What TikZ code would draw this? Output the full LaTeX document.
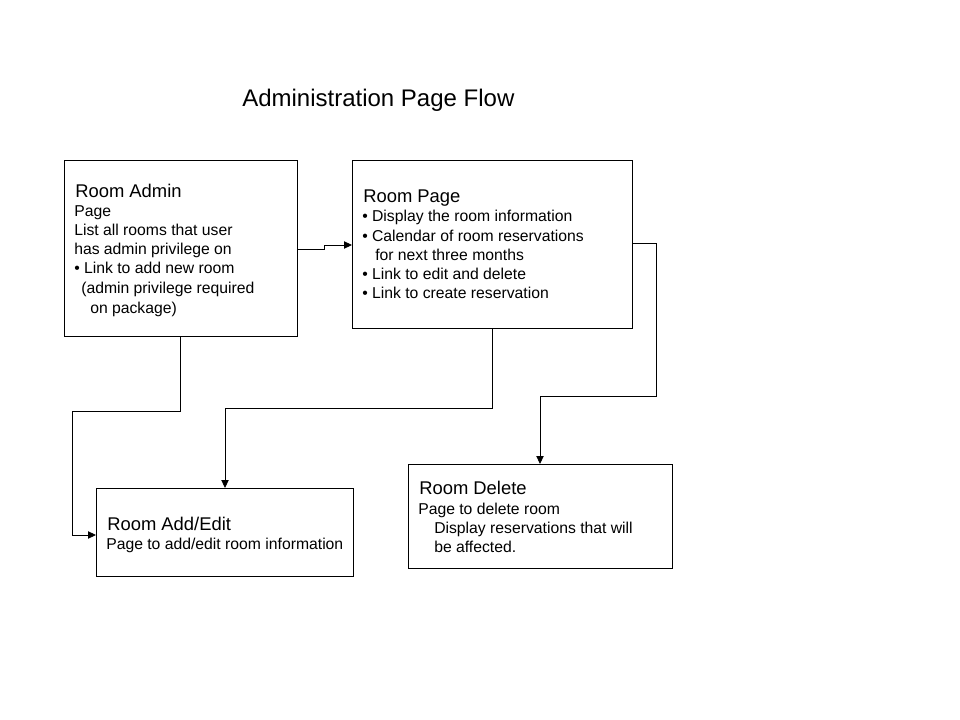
\documentclass[tikz,border=0pt]{standalone}
\usepackage{fontspec}
\setmainfont{Liberation Sans}
\usetikzlibrary{arrows.meta}
\begin{document}
\begin{tikzpicture}[x=0.75pt,y=-0.75pt,
  box/.style={draw=black,line width=0.65pt,fill=white},
  hdr/.style={anchor=base west,inner sep=0pt,font=\fontsize{13.8}{16}\selectfont},
  txt/.style={anchor=base west,inner sep=0pt,font=\fontsize{11.8}{14}\selectfont},
  ttl/.style={anchor=base west,inner sep=0pt,font=\fontsize{18}{21}\selectfont},
  conn/.style={draw=black,line width=0.65pt},
  arr/.style={conn,-{Triangle[length=6pt,width=5.5pt]}}]
\useasboundingbox[fill=white] (0,0) rectangle (960,720);
% title
\node[ttl] (title) at (242,107) {Administration Page Flow};
% boxes
\draw[box] (64,160) rectangle (297,336);
\coordinate (adminR) at (297,249);
\coordinate (adminB) at (180,336);
\draw[box] (352,160) rectangle (632,328);
\coordinate (pageL) at (352,245);
\coordinate (pageB) at (492,328);
\coordinate (pageR) at (632,243);
\draw[box] (96,488) rectangle (353,576);
\coordinate (editL) at (96,535);
\coordinate (editT) at (225,488);
\draw[box] (408,464) rectangle (672,568);
\coordinate (delT) at (540,464);
% Room Admin text
\node[hdr] (a0) at (75,198) {Room Admin};
\node[txt] (a1) at (74,217) {Page};
\node[txt] (a2) at (74,236) {List all rooms that user};
\node[txt] (a3) at (74,255) {has admin privilege on};
\node[txt] (a4) at (74,274) {• Link to add new room};
\node[txt] (a5) at (81,294) {(admin privilege required};
\node[txt] (a6) at (90,313) {on package)};
% Room Page text
\node[hdr] (p0) at (363,203) {Room Page};
\node[txt] (p1) at (362,222) {• Display the room information};
\node[txt] (p2) at (362,242) {• Calendar of room reservations};
\node[txt] (p3) at (375,261) {for next three months};
\node[txt] (p4) at (362,280) {• Link to edit and delete};
\node[txt] (p5) at (362,299) {• Link to create reservation};
% Room Add/Edit text
\node[hdr] (e0) at (107,530) {Room Add/Edit};
\node[txt] (e1) at (106,549) {Page to add/edit room information};
% Room Delete text
\node[hdr] (d0) at (419,494) {Room Delete};
\node[txt] (d1) at (418,514) {Page to delete room};
\node[txt] (d2) at (434,533) {Display reservations that will};
\node[txt] (d3) at (434,552) {be affected.};
% connectors
\draw[arr] (adminR) -- (324,249) -- (324,245) -- (pageL);
\draw[arr] (adminB) -- (180,411) -- (72,411) -- (72,535) -- (editL);
\draw[arr] (pageB) -- (492,408) -- (225,408) -- (editT);
\draw[arr] (pageR) -- (656,243) -- (656,396) -- (540,396) -- (delT);
\end{tikzpicture}
\end{document}
